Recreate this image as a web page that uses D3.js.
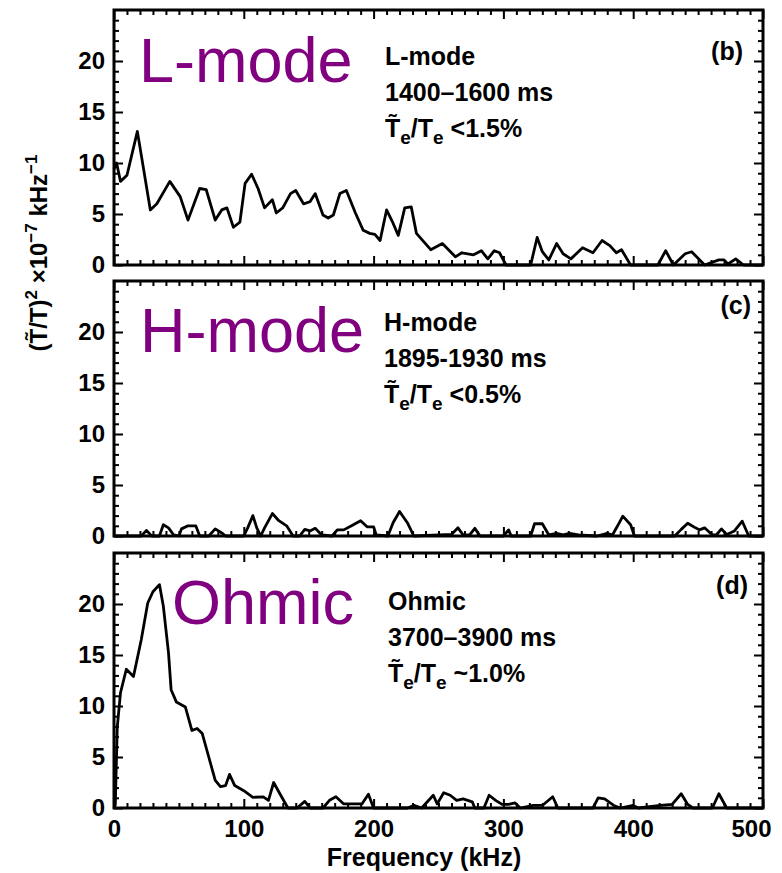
<!DOCTYPE html>
<html>
<head>
<meta charset="utf-8">
<script src="https://cdn.jsdelivr.net/npm/d3@7"></script>
<style>
  body { margin: 0; background: #fff; }
  svg { display: block; }
  text { font-family: "Liberation Sans", Arial, Helvetica, sans-serif; }
</style>
</head>
<body>
<svg id="chart" width="782" height="873"></svg>
<script>
// Temperature fluctuation spectra (kHz) for three confinement regimes.
const lModeFreq  = [0, 2, 5, 10, 18, 28, 33, 43, 51, 57, 66, 71, 78, 83, 87, 92, 97, 101, 106, 111, 116, 122, 125, 130, 136, 140, 146, 151, 155, 161, 165, 169, 174, 179, 186, 192, 197, 201, 205, 210, 215, 219, 224, 229, 233, 244, 253, 263, 268, 277, 283, 288, 293, 297, 302, 321, 326, 330, 335, 341, 346, 352, 361, 369, 376, 382, 387, 391, 398, 419, 425, 431, 440, 445, 452, 455, 466, 470, 473, 479, 485, 500];
const lModePower = [9.4, 10.0, 8.2, 8.8, 13.1, 5.4, 6.0, 8.2, 6.7, 4.4, 7.5, 7.4, 4.4, 5.4, 5.6, 3.7, 4.2, 8.0, 8.9, 7.5, 5.6, 6.4, 5.1, 5.6, 7.0, 7.3, 6.0, 6.2, 7.0, 4.9, 4.6, 4.9, 7.0, 7.3, 5.1, 3.4, 3.1, 3.0, 2.4, 5.4, 4.1, 2.9, 5.6, 5.7, 3.1, 1.5, 2.1, 0.8, 1.2, 1.0, 1.4, 0.6, 1.4, 1.2, 0, 0, 2.7, 1.3, 0.5, 2.1, 1.1, 0.6, 1.7, 1.2, 2.4, 1.9, 1.2, 1.5, 0, 0, 1.4, 0, 1.1, 1.3, 0.4, 0, 0.5, 0.5, 0.1, 0.6, 0, 0];

const hModeFreq  = [0, 21, 25, 29, 35, 38, 42, 46, 50, 52, 57, 63, 66, 73, 78, 83, 86, 100, 103, 107, 110, 113, 116, 122, 127, 133, 138, 143, 147, 151, 155, 160, 168, 172, 177, 183, 190, 195, 200, 202, 211, 215, 220, 226, 231, 260, 265, 269, 274, 278, 282, 300, 304, 306, 321, 324, 330, 335, 341, 346, 351, 358, 372, 380, 384, 388, 392, 398, 401, 432, 437, 442, 448, 451, 455, 461, 464, 468, 472, 478, 484, 489, 500];
const hModePower = [0, 0, 0.55, 0, 0, 1.1, 0.8, 0.1, 0, 0.7, 1.0, 1.0, 0, 0, 0.7, 0.3, 0, 0, 0.8, 2.0, 0.8, 0, 0.8, 2.2, 1.5, 1.0, 0, 0, 0.65, 0.5, 0.75, 0.1, 0, 0.6, 0.6, 1.0, 1.5, 0.9, 0.9, 0.1, 0, 1.3, 2.4, 1.3, 0, 0.15, 0.8, 0.1, 0.1, 0.75, 0, 0, 0.6, 0, 0, 1.2, 1.2, 0.1, 0.25, 0.1, 0.25, 0.1, 0, 0.25, 0.1, 1.0, 1.95, 1.1, 0, 0, 0.65, 1.25, 0.8, 0.6, 0.8, 0.1, 0.1, 0.7, 0.15, 0.5, 1.45, 0, 0];

const ohmicFreq  = [0, 1, 2.5, 5, 9.5, 15, 21, 26, 30, 35, 38, 42, 44, 48, 55, 60, 64, 68, 73, 78, 82, 86, 89, 93, 100, 107, 115, 119, 123, 128, 134, 141, 147, 151, 161, 166, 171, 177, 183, 191, 196, 200, 226, 231, 237, 246, 249, 254, 259, 264, 269, 276, 278, 285, 289, 294, 299, 304, 309, 313, 323, 330, 338, 342, 369, 373, 378, 385, 390, 400, 404, 421, 430, 437, 442, 446, 461, 466, 472, 500];
const ohmicPower = [0, 0.3, 7.9, 11.3, 13.6, 12.9, 16.5, 20.1, 21.2, 21.9, 19.8, 15.2, 11.6, 10.4, 9.9, 7.6, 7.8, 7.3, 5.0, 2.7, 2.1, 2.2, 3.3, 2.2, 1.7, 1.05, 1.1, 0.75, 2.5, 1.35, 0, 0, 0.65, 0, 0, 0.75, 1.1, 0.4, 0.4, 0.4, 1.35, 0, 0, 0.25, 0, 1.25, 0.4, 1.5, 1.25, 0.75, 0.9, 0.6, 0, 0, 1.25, 0.75, 0.35, 0.35, 0.5, 0, 0.25, 0.25, 1.1, 0, 0, 1.0, 0.9, 0.25, 0, 0.25, 0, 0.25, 0.35, 1.4, 0.35, 0, 0, 1.4, 0, 0];

const modeNames   = ["L-mode", "H-mode", "Ohmic"];
const timeWindows = ["1400–1600 ms", "1895-1930 ms", "3700–3900 ms"];
const fluctLevels = ["<1.5%", "<0.5%", "~1.0%"];
const panelTags   = ["(b)", "(c)", "(d)"];

const yMajorTicks = [0, 5, 10, 15, 20];
const xMajorTicks = [0, 100, 200, 300, 400, 500];
const xTitle = "Frequency (kHz)";

// ---- layout ----
const X0 = 114, X1 = 763, PH = 255;
const panelTops = [10, 281, 553];
const bigLabelPos  = [[139, 82], [140, 352], [172, 624]];
const notePos      = [[385, 65], [384, 331], [388, 610]];
const tagPos       = [[743, 60], [751, 314], [748, 594]];
const PURPLE = "#800080";

const svg = d3.select("#chart");
const x = d3.scaleLinear().domain([0, 500]).range([X0, X1]);
const xMinor = d3.range(0, 501, 10).filter(v => v % 100 !== 0);
const yMinor = d3.range(0, 26, 1).filter(v => v % 5 !== 0);

const series = [
  d3.zip(lModeFreq, lModePower),
  d3.zip(hModeFreq, hModePower),
  d3.zip(ohmicFreq, ohmicPower)
];

function styleAxis(g) {
  g.select(".domain").remove();
  g.selectAll(".tick line").attr("stroke", "#000").attr("stroke-width", 2);
  g.selectAll(".tick text")
    .attr("fill", "#000")
    .style("font-size", "24px")
    .style("font-weight", "bold")
    .style("font-family", "'Liberation Sans', Arial, Helvetica, sans-serif");
}

series.forEach((data, i) => {
  const top = panelTops[i], bottom = top + PH;
  const y = d3.scaleLinear().domain([0, 25]).range([bottom, top]);
  const g = svg.append("g");

  // left axis with labels (ticks pointing inward)
  g.append("g").attr("transform", `translate(${X0},0)`)
    .call(d3.axisLeft(y).tickValues(yMajorTicks).tickSize(-9).tickPadding(9).tickFormat(d3.format("d")))
    .call(styleAxis);
  g.append("g").attr("transform", `translate(${X0},0)`)
    .call(d3.axisLeft(y).tickValues(yMinor).tickSize(-5).tickFormat(""))
    .call(styleAxis);
  // right axis
  g.append("g").attr("transform", `translate(${X1},0)`)
    .call(d3.axisRight(y).tickValues(yMajorTicks).tickSize(-9).tickFormat(""))
    .call(styleAxis);
  g.append("g").attr("transform", `translate(${X1},0)`)
    .call(d3.axisRight(y).tickValues(yMinor).tickSize(-5).tickFormat(""))
    .call(styleAxis);
  // top axis
  g.append("g").attr("transform", `translate(0,${top})`)
    .call(d3.axisTop(x).tickValues(xMajorTicks).tickSize(-9).tickFormat(""))
    .call(styleAxis);
  g.append("g").attr("transform", `translate(0,${top})`)
    .call(d3.axisTop(x).tickValues(xMinor).tickSize(-5).tickFormat(""))
    .call(styleAxis);
  // bottom axis (labels only on the last panel)
  const last = i === series.length - 1;
  const bx = g.append("g").attr("transform", `translate(0,${bottom})`)
    .call(d3.axisBottom(x).tickValues(xMajorTicks).tickSize(-9).tickPadding(12)
      .tickFormat(last ? d3.format("d") : ""))
    .call(styleAxis);
  // keep the rightmost label inside the page edge
  if (last) bx.selectAll(".tick text").filter(d => d === 500).attr("dx", -12);
  g.append("g").attr("transform", `translate(0,${bottom})`)
    .call(d3.axisBottom(x).tickValues(xMinor).tickSize(-5).tickFormat(""))
    .call(styleAxis);

  // spectrum trace
  g.append("path")
    .datum(data)
    .attr("fill", "none")
    .attr("stroke", "#000")
    .attr("stroke-width", 2.8)
    .attr("stroke-linejoin", "round")
    .attr("d", d3.line().x(d => x(d[0])).y(d => y(d[1])));

  // frame
  g.append("rect")
    .attr("x", X0).attr("y", top)
    .attr("width", X1 - X0).attr("height", PH)
    .attr("fill", "none").attr("stroke", "#000").attr("stroke-width", 3);

  // regime label
  g.append("text")
    .attr("x", bigLabelPos[i][0]).attr("y", bigLabelPos[i][1])
    .attr("fill", PURPLE)
    .style("font-size", "63px")
    .text(modeNames[i]);

  // annotation block
  const [nx, ny] = notePos[i];
  const note = g.append("g").attr("font-size", 25).attr("font-weight", "bold").attr("fill", "#000");
  note.append("text").attr("x", nx).attr("y", ny).text(modeNames[i]);
  note.append("text").attr("x", nx).attr("y", ny + 36).text(timeWindows[i]);
  const t3 = note.append("text").attr("x", nx).attr("y", ny + 72);
  t3.append("tspan").text("T\u0303");
  t3.append("tspan").attr("dy", 7).attr("font-size", 19).text("e");
  t3.append("tspan").attr("dy", -7).text("/T");
  t3.append("tspan").attr("dy", 7).attr("font-size", 19).text("e");
  t3.append("tspan").attr("dy", -7).text(" " + fluctLevels[i]);

  // panel tag
  g.append("text")
    .attr("x", tagPos[i][0]).attr("y", tagPos[i][1])
    .attr("text-anchor", "end")
    .style("font-size", "25px").style("font-weight", "bold")
    .text(panelTags[i]);
});

// x-axis title
svg.append("text")
  .attr("x", 424).attr("y", 866)
  .attr("text-anchor", "middle")
  .style("font-size", "25px").style("font-weight", "bold")
  .text(xTitle);

// y-axis title (rotated)
const yt = svg.append("text")
  .attr("transform", "translate(47,253) rotate(-90)")
  .attr("text-anchor", "middle")
  .style("font-size", "24px").style("font-weight", "bold");
yt.append("tspan").text("(T\u0303/T)");
yt.append("tspan").attr("dy", -10).attr("font-size", 17).text("2");
yt.append("tspan").attr("dy", 10).text(" \u00d710");
yt.append("tspan").attr("dy", -10).attr("font-size", 17).text("\u22127");
yt.append("tspan").attr("dy", 10).text(" kHz");
yt.append("tspan").attr("dy", -10).attr("font-size", 17).text("\u22121");
</script>
</body>
</html>
